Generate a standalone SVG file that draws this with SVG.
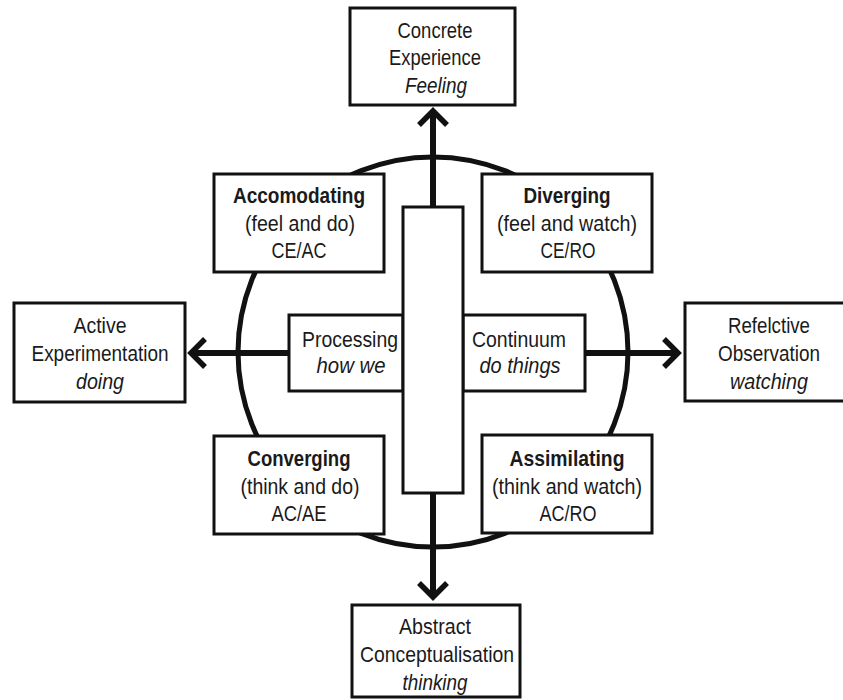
<svg xmlns="http://www.w3.org/2000/svg" width="843" height="700" viewBox="0 0 843 700">
  <style>
    .box { fill: #fff; stroke: #111; stroke-width: 3; }
    .ring { fill: none; stroke: #111; stroke-width: 5; }
    .conn { stroke: #111; stroke-width: 6; fill: none; }
    text { font-family: "Liberation Sans", Arial, sans-serif; font-size: 22px; fill: #1a1a1a; text-anchor: middle; }
    .b { font-weight: bold; }
    .i { font-style: italic; }
  </style>
  <defs>
    <marker id="chev" markerUnits="userSpaceOnUse" markerWidth="40" markerHeight="40" viewBox="-20 -20 40 40" refX="0" refY="0" orient="auto" overflow="visible">
      <path d="M-14,-14 L0,0 L-14,14" fill="none" stroke="#111" stroke-width="5.5"/>
    </marker>
  </defs>
  <rect width="843" height="700" fill="#fff"/>

  <circle class="ring" cx="433" cy="352" r="195"/>

  <g id="connectors">
    <line class="conn" x1="433" y1="207" x2="433" y2="111" marker-end="url(#chev)"/>
    <line class="conn" x1="433" y1="493" x2="433" y2="597" marker-end="url(#chev)"/>
    <line class="conn" x1="289" y1="353" x2="191" y2="353" marker-end="url(#chev)"/>
    <line class="conn" x1="585" y1="353" x2="678" y2="353" marker-end="url(#chev)"/>
  </g>

  <g id="concrete-experience">
    <rect class="box" x="350" y="8" width="165" height="97"/>
    <text x="435" y="38" textLength="75" lengthAdjust="spacingAndGlyphs">Concrete</text>
    <text x="435" y="65" textLength="92" lengthAdjust="spacingAndGlyphs">Experience</text>
    <text x="436" y="93" class="i" textLength="62" lengthAdjust="spacingAndGlyphs">Feeling</text>
  </g>

  <g id="accomodating">
    <rect class="box" x="214" y="174" width="170" height="98"/>
    <text x="299" y="203" class="b" textLength="132" lengthAdjust="spacingAndGlyphs">Accomodating</text>
    <text x="300" y="231" textLength="110" lengthAdjust="spacingAndGlyphs">(feel and do)</text>
    <text x="299" y="258" textLength="55" lengthAdjust="spacingAndGlyphs">CE/AC</text>
  </g>

  <g id="diverging">
    <rect class="box" x="482" y="174" width="170" height="98"/>
    <text x="567" y="203" class="b" textLength="87" lengthAdjust="spacingAndGlyphs">Diverging</text>
    <text x="567" y="231" textLength="140" lengthAdjust="spacingAndGlyphs">(feel and watch)</text>
    <text x="568" y="258" textLength="55" lengthAdjust="spacingAndGlyphs">CE/RO</text>
  </g>

  <g id="active-experimentation">
    <rect class="box" x="14" y="303" width="171" height="99"/>
    <text x="100" y="333" textLength="53" lengthAdjust="spacingAndGlyphs">Active</text>
    <text x="100" y="361" textLength="137" lengthAdjust="spacingAndGlyphs">Experimentation</text>
    <text x="100" y="389" class="i" textLength="48" lengthAdjust="spacingAndGlyphs">doing</text>
  </g>

  <g id="processing">
    <rect class="box" x="289" y="315" width="114" height="76"/>
    <text x="350" y="347" textLength="96" lengthAdjust="spacingAndGlyphs">Processing</text>
    <text x="351" y="373" class="i" textLength="69" lengthAdjust="spacingAndGlyphs">how we</text>
  </g>

  <g id="continuum">
    <rect class="box" x="463" y="315" width="122" height="76"/>
    <text x="519" y="347" textLength="94" lengthAdjust="spacingAndGlyphs">Continuum</text>
    <text x="520" y="373" class="i" textLength="81" lengthAdjust="spacingAndGlyphs">do things</text>
  </g>

  <g id="center-column">
    <rect class="box" x="403" y="207" width="60" height="286"/>
  </g>

  <g id="reflective-observation">
    <rect class="box" x="685" y="303" width="168" height="98"/>
    <text x="769" y="333" textLength="82" lengthAdjust="spacingAndGlyphs">Refelctive</text>
    <text x="769" y="361" textLength="102" lengthAdjust="spacingAndGlyphs">Observation</text>
    <text x="769" y="389" class="i" textLength="78" lengthAdjust="spacingAndGlyphs">watching</text>
  </g>

  <g id="converging">
    <rect class="box" x="214" y="436" width="170" height="98"/>
    <text x="299" y="466" class="b" textLength="103" lengthAdjust="spacingAndGlyphs">Converging</text>
    <text x="300" y="494" textLength="119" lengthAdjust="spacingAndGlyphs">(think and do)</text>
    <text x="299" y="521" textLength="55" lengthAdjust="spacingAndGlyphs">AC/AE</text>
  </g>

  <g id="assimilating">
    <rect class="box" x="482" y="435" width="170" height="98"/>
    <text x="567" y="466" class="b" textLength="115" lengthAdjust="spacingAndGlyphs">Assimilating</text>
    <text x="567" y="494" textLength="150" lengthAdjust="spacingAndGlyphs">(think and watch)</text>
    <text x="568" y="521" textLength="57" lengthAdjust="spacingAndGlyphs">AC/RO</text>
  </g>

  <g id="abstract-conceptualisation">
    <rect class="box" x="352" y="605" width="168" height="92"/>
    <text x="435" y="634" textLength="72" lengthAdjust="spacingAndGlyphs">Abstract</text>
    <text x="437" y="662" textLength="154" lengthAdjust="spacingAndGlyphs">Conceptualisation</text>
    <text x="435" y="690" class="i" textLength="65" lengthAdjust="spacingAndGlyphs">thinking</text>
  </g>
</svg>
